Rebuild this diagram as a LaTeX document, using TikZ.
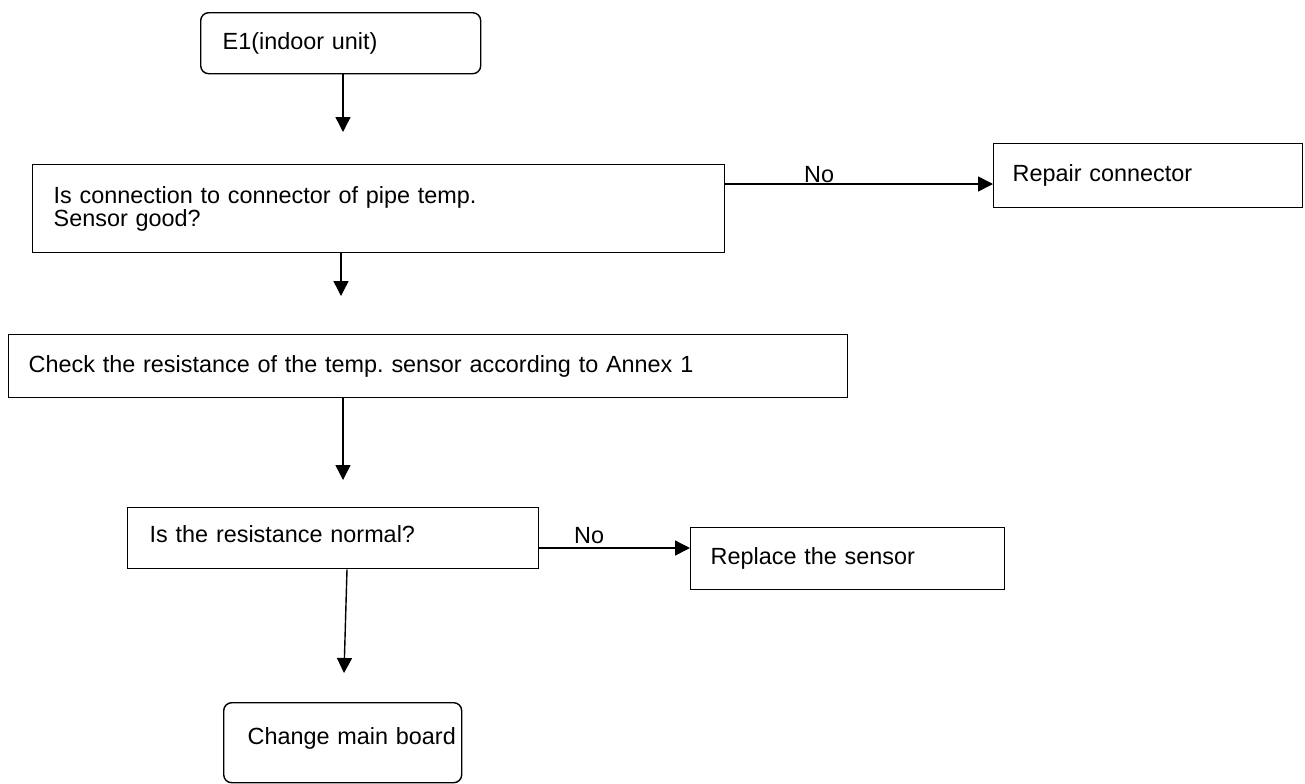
\documentclass[tikz,border=0pt]{standalone}
\usepackage{fontspec}
\setmainfont{Liberation Sans}
\usetikzlibrary{arrows.meta}
\frenchspacing
\begin{document}
\begin{tikzpicture}[x=0.5pt,y=-0.5pt,line width=0.7pt,font=\fontsize{11.7}{11.7}\selectfont,>={Triangle[length=7.5pt,width=7.5pt]}]
  \tikzstyle{box}=[draw,anchor=north west,align=left,inner ysep=2pt]
  \tikzstyle{rbox}=[box,rounded corners=4pt]
  \useasboundingbox (0,0) rectangle (1305,783);
  \node[rbox, minimum width=140pt, minimum height=30.5pt, inner xsep=11pt, text width=118pt] (F_1) at (200,12) {E1(indoor unit)};
  \node[box, minimum width=346pt, minimum height=44pt, inner xsep=10.5pt, text width=325pt] (F_2) at (32,164) {Is connection to connector of pipe temp.\\Sensor good?};
  \node[box, minimum width=154.5pt, minimum height=32pt, inner xsep=9.5pt, text width=135.5pt] (F_3) at (993,143) {Repair connector};
  \node[box, minimum width=419.5pt, minimum height=31.5pt, inner xsep=10pt, text width=399.5pt] (F_4) at (8,334) {Check the resistance of the temp. sensor according to Annex 1};
  \node[box, minimum width=205.5pt, minimum height=30.5pt, inner xsep=11pt, text width=183.5pt, text depth=4.5pt] (F_5) at (127,507) {Is the resistance normal?};
  \node[box, minimum width=157pt, minimum height=31pt, inner xsep=10pt, text width=137pt] (F_6) at (690,527) {Replace the sensor};
  \node[rbox, minimum width=119pt, minimum height=40pt, inner xsep=12pt, text width=95pt, text depth=7pt] (F_7) at (223,702) {\mbox{Change main board}};
  \coordinate (A_1) at (343,132);
  \coordinate (A_2) at (341,296);
  \coordinate (A_3) at (343,480);
  \coordinate (A_4) at (344,673);
  \coordinate (T_4) at (347,0);
  \coordinate (Y_1) at (0,184);
  \coordinate (Y_2) at (0,548);
  \draw [->] (F_1.south -| A_1) -- (A_1);
  \draw [->] (F_2.south -| A_2) -- (A_2);
  \draw [->] (F_4.south -| A_3) -- (A_3);
  \draw [->] (F_5.south -| T_4) -- (A_4);
  \draw [->] (F_2.east |- Y_1) -- node[pos=0.35, above, inner sep=0.5pt] (N_1) {No} (F_3.west |- Y_1);
  \draw [->] (F_5.east |- Y_2) -- node[pos=0.33, above=2pt, inner sep=0pt] (N_2) {No} (F_6.west |- Y_2);
\end{tikzpicture}
\end{document}
